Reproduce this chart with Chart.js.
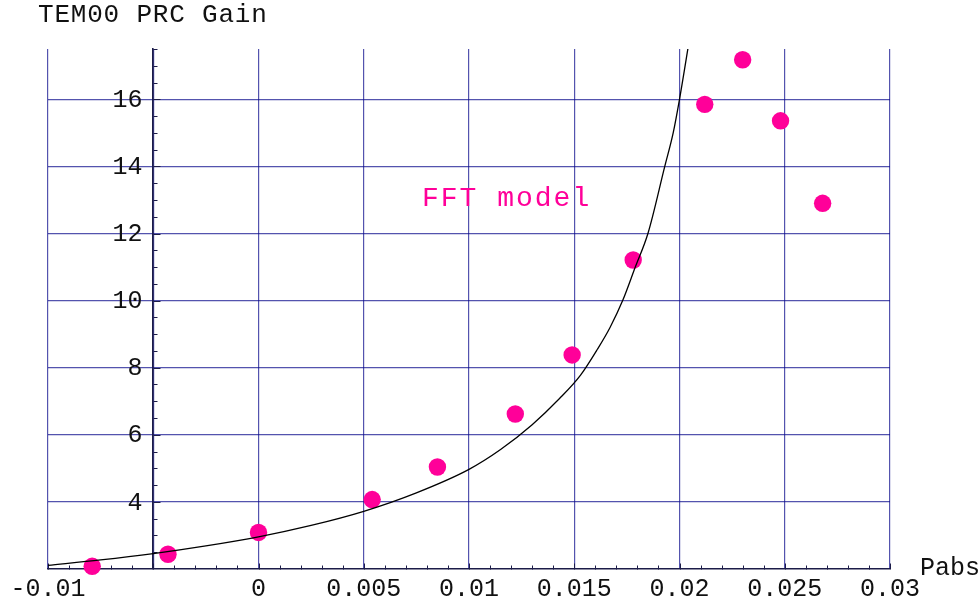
<!DOCTYPE html>
<html>
<head>
<meta charset="utf-8">
<script src="https://cdn.jsdelivr.net/npm/chart.js@4.4.1/dist/chart.umd.min.js"></script>
<style>
  html, body { margin: 0; padding: 0; background: #fff; }
</style>
</head>
<body>
<canvas id="prcChart" width="980" height="603"></canvas>
<script>
// ---------- data ----------
const fftX = [-0.0079, -0.0043, 0.0, 0.0054, 0.0085, 0.0122, 0.0149, 0.0178, 0.0212, 0.0230, 0.0248, 0.0268];
const fftGain = [2.08, 2.44, 3.09, 4.07, 5.04, 6.62, 8.38, 11.21, 15.85, 17.18, 15.36, 12.90];

const modelX = [-0.01, -0.0075, -0.005, -0.0025, 0, 0.0025, 0.005, 0.0075, 0.01, 0.0115, 0.013,
  0.0143, 0.0153, 0.0161, 0.0167, 0.0173, 0.0179, 0.0185, 0.0193, 0.0197, 0.0200, 0.0205];
const modelGain = [2.11, 2.27, 2.46, 2.69, 2.96, 3.30, 3.72, 4.27, 4.97, 5.56, 6.30,
  7.08, 7.78, 8.55, 9.20, 10.0, 11.0, 12.0, 14.0, 15.0, 16.0, 17.9];

const xTickLabels = ["-0.01", "", "0", "0.005", "0.01", "0.015", "0.02", "0.025", "0.03"];
const yTickLabels = ["", "4", "6", "8", "10", "12", "14", "16"];

const FONT = `"Liberation Mono", "DejaVu Sans Mono", monospace`;
const GRID = "rgba(10,10,140,0.7)";
const AXIS = "#1c1c48";
const PINK = "#ff0099";

const zip = (xs, ys) => xs.map((x, i) => ({x: x, y: ys[i]}));

// minor ticks point inward like the original; y labels sit left of the
// floating y axis; plus the free-floating texts
const decorations = {
  id: "decorations",
  beforeDatasetsDraw(chart) {
    const {ctx, scales: {x, y}} = chart;
    const yAxisPx = Math.round(x.getPixelForValue(-0.005)) + 0.5;
    const xAxisPx = Math.round(y.getPixelForValue(2)) + 0.5;
    ctx.save();
    ctx.strokeStyle = AXIS;
    ctx.lineWidth = 1;
    ctx.beginPath();
    for (let i = -10; i <= 30; i++) {
      const px = Math.round(x.getPixelForValue(i / 1000)) + 0.5;
      const len = i % 5 === 0 ? 6 : 4;
      ctx.moveTo(px, xAxisPx);
      ctx.lineTo(px, xAxisPx - len);
    }
    for (let i = 5; i <= 35; i++) {
      const py = Math.round(y.getPixelForValue(i / 2)) + 0.5;
      const len = i % 4 === 0 ? 7 : 4;
      ctx.moveTo(yAxisPx, py);
      ctx.lineTo(yAxisPx + len, py);
    }
    ctx.stroke();

    ctx.fillStyle = "#111";
    ctx.font = `25px ${FONT}`;
    ctx.textAlign = "right";
    ctx.textBaseline = "middle";
    y.ticks.forEach((t) => {
      const label = yTickLabels[Math.round((t.value - 2) / 2)] ?? "";
      if (label) ctx.fillText(label, yAxisPx - 11, y.getPixelForValue(t.value) + 1);
    });
    ctx.restore();
  },
  afterDraw(chart) {
    const {ctx, scales: {y}} = chart;
    ctx.save();
    ctx.textBaseline = "middle";
    ctx.textAlign = "left";
    ctx.fillStyle = "#111";
    ctx.font = `26px ${FONT}`;
    ctx.letterSpacing = "0.8px";
    ctx.fillText("TEM00 PRC Gain", 38, 15);
    ctx.letterSpacing = "0px";
    ctx.font = `25px ${FONT}`;
    ctx.fillText("Pabs", 920, y.getPixelForValue(2) - 1);
    ctx.fillStyle = PINK;
    ctx.font = `28px ${FONT}`;
    ctx.letterSpacing = "2px";
    ctx.fillText("FFT model", 422, 199);
    ctx.restore();
  }
};

const ctx = document.getElementById("prcChart").getContext("2d");
const prcChart = new Chart(ctx, {
  type: "scatter",
  data: {
    datasets: [
      {
        label: "FFT",
        data: zip(fftX, fftGain),
        backgroundColor: PINK,
        borderWidth: 0,
        pointRadius: 8.7,
        clip: false,
        order: 1,
      },
      {
        label: "model",
        data: zip(modelX, modelGain),
        showLine: true,
        borderColor: "#000",
        borderWidth: 1.3,
        pointRadius: 0,
        cubicInterpolationMode: "monotone",
        order: 0,
      },
    ],
  },
  options: {
    responsive: false,
    animation: false,
    layout: { padding: { left: 48, right: 90, top: 49, bottom: 0 } },
    plugins: { legend: { display: false }, tooltip: { enabled: false } },
    scales: {
      x: {
        type: "linear",
        min: -0.01,
        max: 0.03,
        afterFit: (scale) => { scale.height = 34; },
        ticks: {
          stepSize: 0.005,
          autoSkip: false,
          maxRotation: 0,
          minRotation: 0,
          padding: 5,
          color: "#111",
          font: { family: FONT, size: 25 },
          callback: (v) => xTickLabels[Math.round((v + 0.01) / 0.005)] ?? "",
        },
        grid: { color: GRID, lineWidth: 1.2, drawTicks: false },
        border: { color: AXIS, width: 1.6 },
      },
      y: {
        type: "linear",
        min: 2,
        max: 17.5,
        position: { x: -0.005 },
        ticks: {
          stepSize: 2,
          includeBounds: false,
          display: false,
        },
        grid: {
          color: (c) => (c.tick && c.tick.value > 2.5 ? GRID : "rgba(0,0,0,0)"),
          lineWidth: 1.2,
          drawTicks: false,
        },
        border: { color: AXIS, width: 1.6 },
      },
    },
  },
  plugins: [decorations],
});
</script>
</body>
</html>
